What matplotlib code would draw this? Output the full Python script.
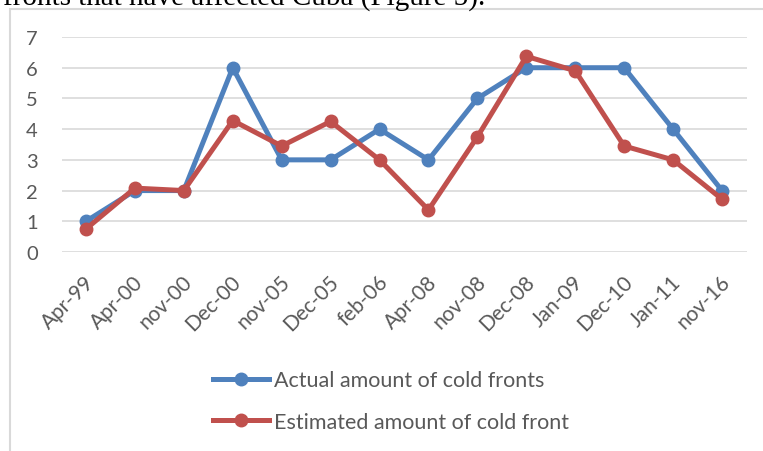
import matplotlib
matplotlib.use("Agg")
import matplotlib.pyplot as plt
import matplotlib.transforms as mtransforms
from matplotlib.patches import Rectangle

# Data
dates = ["Apr-99", "Apr-00", "nov-00", "Dec-00", "nov-05", "Dec-05", "feb-06",
         "Apr-08", "nov-08", "Dec-08", "Jan-09", "Dec-10", "Jan-11", "nov-16"]
actual = [1, 2, 2, 6, 3, 3, 4, 3, 5, 6, 6, 6, 4, 2]
estimated = [0.75, 2.08, 2.0, 4.28, 3.45, 4.25, 3.0, 1.37, 3.75, 6.37, 5.9, 3.45, 3.0, 1.72]
yticks = [0, 1, 2, 3, 4, 5, 6, 7]

W, H = 763, 452
fig = plt.figure(figsize=(W / 100, H / 100), dpi=100)
plt.rcParams["font.family"] = ["Lato", "DejaVu Sans"]
grey = "#595959"

# cut-off caption line above the chart
fig.text(3 / W, 1 - 6 / H, "fronts that have affected Cuba (Figure 5).",
         family="Liberation Serif", fontsize=21, color="black", va="baseline")

# chart frame (only top and left edges are visible)
fig.patches.append(Rectangle((10 / W, -0.1), 1.2, 1 - 10 / H + 0.1,
                             transform=fig.transFigure, fill=False,
                             edgecolor="#D9D9D9", linewidth=1.5))

ax = fig.add_axes([61.5 / W, (H - 253) / H, 685 / W, 215 / H])
x = list(range(len(dates)))
ax.plot(x, actual, color="#4F81BD", lw=3.6, marker="o", ms=9, clip_on=False,
        label="Actual amount of cold fronts", zorder=3)
ax.plot(x, estimated, color="#C0504D", lw=3.6, marker="o", ms=9, clip_on=False,
        label="Estimated amount of cold front", zorder=4)

ax.set_xlim(-0.5, len(dates) - 0.5)
ax.set_ylim(0, 7)
ax.set_yticks(yticks)
ax.grid(axis="y", color="#D9D9D9", lw=1.2)
ax.set_axisbelow(True)
for s in ax.spines.values():
    s.set_visible(False)
ax.tick_params(length=0, colors=grey, labelsize=14.5)
ax.tick_params(axis="y", pad=17)
ax.set_xticks(x)
ax.set_xticklabels(dates, rotation=45, ha="right", va="center",
                   rotation_mode="anchor", fontsize=15)
ax.tick_params(axis="x", pad=19)
offset = mtransforms.ScaledTranslation(0.05, 0, fig.dpi_scale_trans)
for lab in ax.get_xticklabels():
    lab.set_transform(lab.get_transform() + offset)

leg = fig.legend(loc="upper left", bbox_to_anchor=(194 / W, 1 - 352 / H),
                 frameon=False, fontsize=15.5, labelcolor=grey, handlelength=2.6,
                 handletextpad=0.23, labelspacing=1.0)

fig.savefig("out.png", dpi=100)
